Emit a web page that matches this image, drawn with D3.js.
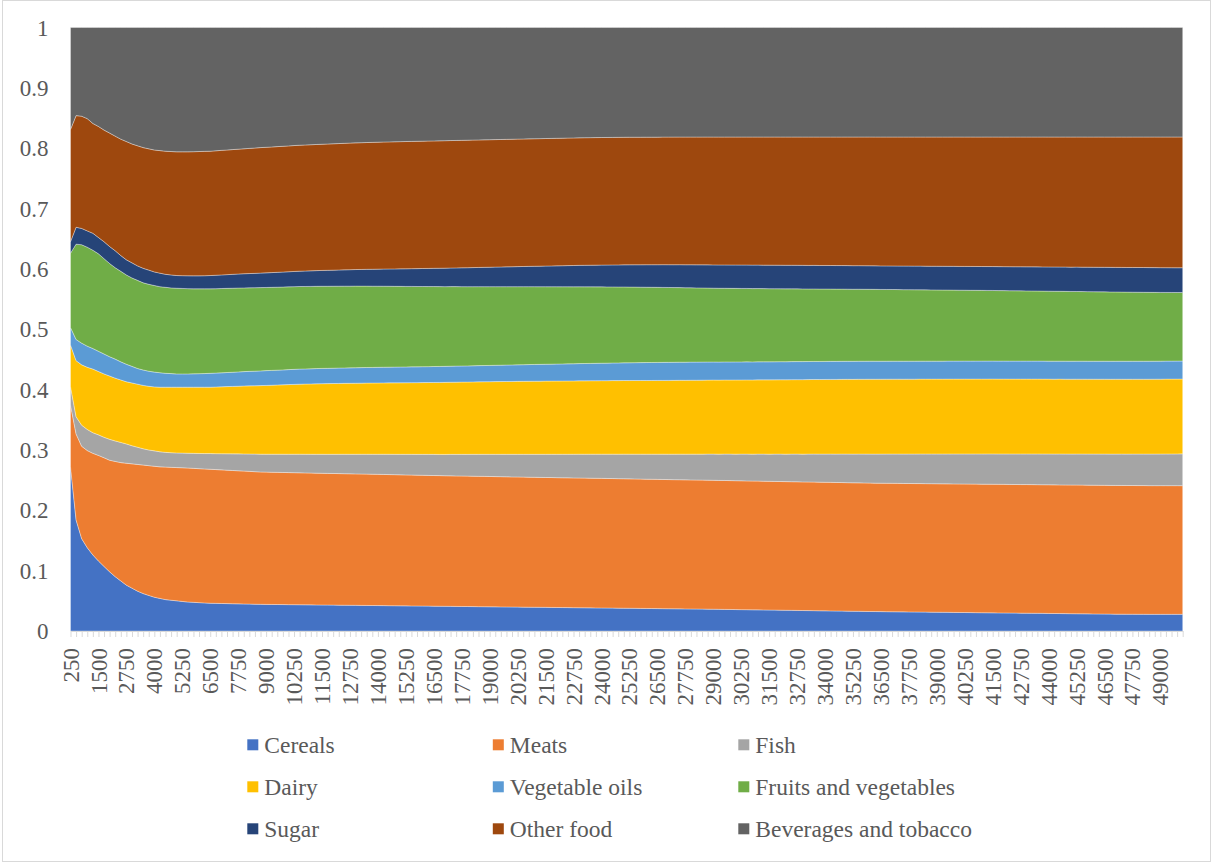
<!DOCTYPE html>
<html>
<head>
<meta charset="utf-8">
<script src="https://cdn.jsdelivr.net/npm/d3@7"></script>
<style>
  html, body { margin: 0; padding: 0; background: #fff; }
  svg { display: block; font-family: "Times New Roman", "Liberation Serif", serif; }
</style>
</head>
<body>
<svg id="chart" width="1212" height="864"></svg>
<script>
// ---------------- DATA ----------------
const categories = [
250,500,750,1000,1250,1500,1750,2000,2250,2500,2750,3000,3250,3500,3750,4000,4250,4500,4750,5000,
5250,5500,5750,6000,6250,6500,6750,7000,7250,7500,7750,8000,8250,8500,8750,9000,9250,9500,9750,10000,
10250,10500,10750,11000,11250,11500,11750,12000,12250,12500,12750,13000,13250,13500,13750,14000,14250,14500,14750,15000,
15250,15500,15750,16000,16250,16500,16750,17000,17250,17500,17750,18000,18250,18500,18750,19000,19250,19500,19750,20000,
20250,20500,20750,21000,21250,21500,21750,22000,22250,22500,22750,23000,23250,23500,23750,24000,24250,24500,24750,25000,
25250,25500,25750,26000,26250,26500,26750,27000,27250,27500,27750,28000,28250,28500,28750,29000,29250,29500,29750,30000,
30250,30500,30750,31000,31250,31500,31750,32000,32250,32500,32750,33000,33250,33500,33750,34000,34250,34500,34750,35000,
35250,35500,35750,36000,36250,36500,36750,37000,37250,37500,37750,38000,38250,38500,38750,39000,39250,39500,39750,40000,
40250,40500,40750,41000,41250,41500,41750,42000,42250,42500,42750,43000,43250,43500,43750,44000,44250,44500,44750,45000,
45250,45500,45750,46000,46250,46500,46750,47000,47250,47500,47750,48000,48250,48500,48750,49000,49250,49500,49750,50000
];

const seriesNames = ["Cereals","Meats","Fish","Dairy","Vegetable oils","Fruits and vegetables","Sugar","Other food","Beverages and tobacco"];

const cereals = [
.272,.184,.153,.138,.126,.116,.107,.098,.090,.083,
.076,.071,.066,.062,.059,.056,.054,.052,.051,.050,
.049,.048,.0475,.047,.0465,.046,.0458,.0456,.0454,.0452,
.045,.0448,.0446,.0444,.0442,
.0441,.044,.0439,.0438,.0437,.0436,.0435,.0434,.0433,.0432,
.0431,.043,.0429,.0428,.0427,.0426,.0425,.0424,.0423,.0422,
.0421,.042,.0419,.0418,.0417,.0416,.0415,.0414,.0413,.0412,
.0411,.041,.0409,.0408,.0407,.0406,.0405,.0404,.0403,.0402,
.0401,.040,.0399,.0398,.0397,.0396,.0395,.0394,.0393,.0392,
.0391,.039,.0389,.0388,.0387,.0386,.0385,.0384,.0383,.0382,
.0381,.038,.0379,.0378,.0377,.0376,.0375,.0374,.0373,.0372,
.0371,.037,.0369,.0368,.0367,.0366,.0365,.0364,.0363,.0362,
.0361,.0359,.0358,.0357,.0355,.0354,.0353,.0351,.035,.0349,
.0347,.0346,.0345,.0343,.0342,.0341,.0339,.0338,.0337,.0335,
.0334,.0333,.0331,.033,.0329,.0327,.0326,.0325,.0323,.0322,
.0321,.032,.0319,.0318,.0317,.0316,.0315,.0314,.0313,.0312,
.0311,.031,.0309,.0308,.0307,.0306,.0305,.0304,.0303,.0302,
.0301,.030,.0299,.0298,.0297,.0296,.0295,.0294,.0293,.0292,
.0291,.029,.0289,.0288,.0287,.0286,.0285,.0284,.0283,.0282,
.0281,.028,.0279,.0279,.0278,.0278,.0277,.0277,.0276,.0276,
.0276,.0276,.0276,.0276,.0276
];

const meats = [
.1025,.1424,.153,.161,.1684,.175,.180,.185,.191,.196,
.202,.206,.210,.213,.215,.217,.218,.2196,.2202,.2208,
.2215,.222,.222,.222,.222,.222,.2217,.2214,.2211,.2208,
.2205,.2202,.2199,.2196,.2193,
.2192,.2191,.219,.2189,.2188,.2187,.2186,.2185,.2184,.2183,
.2182,.2181,.218,.2179,.2178,.2177,.2176,.2175,.2174,.2173,
.2172,.2171,.217,.2169,.2168,.2167,.2166,.2165,.2164,.2163,
.2162,.2161,.216,.216,.2159,.2159,.2158,.2158,.2157,.2157,
.2156,.2155,.2155,.2154,.2153,.2153,.2152,.2151,.2151,.215,
.2149,.2149,.2148,.2147,.2147,.2146,.2146,.2145,.2145,.2144,
.2144,.2143,.2143,.2142,.2142,.2141,.2141,.214,.214,.214,
.2139,.2139,.2138,.2138,.2138,.2137,.2137,.2136,.2136,.2136,
.2135,.2135,.2135,.2134,.2134,.2134,.2133,.2133,.2133,.2132,
.2132,.2132,.2131,.2131,.2131,.2131,.213,.213,.213,.213,
.2129,.2129,.2129,.2129,.2128,.2128,.2128,.2128,.2128,.2127,
.2127,.2127,.2127,.2127,.2127,.2127,.2127,.2128,.2128,.2128,
.2128,.2128,.2128,.2129,.2129,.2129,.2129,.2129,.2129,.213,
.213,.213,.213,.213,.213,.213,.2131,.2131,.2131,.2131,
.2131,.2131,.2131,.2131,.2131,.2132,.2132,.2132,.2132,.2132,
.2132,.2132,.2132,.2132,.2132,.2132,.2132,.2132,.2132,.2132,
.2132,.2132,.2132,.2132,.2132
];

const fish = [
.0305,.0286,.035,.035,.0342,.034,.034,.0346,.034,.0335,
.032,.030,.0285,.027,.026,.0255,.025,.0244,.0243,.0242,
.0243,.0246,.0249,.0252,.0255,.026,.0264,.0268,.0272,.0276,
.028,.0284,.0288,.0292,.0295,
.0297,.0299,.0301,.0302,.0304,.0306,.0308,.0309,.0311,.0313,
.0315,.0316,.0318,.032,.0322,.0323,.0325,.0327,.0329,.033,
.0332,.0334,.0336,.0337,.0339,.0341,.0343,.0344,.0346,.0348,
.035,.0351,.0353,.0355,.0357,.0358,.036,.0362,.0364,.0365,
.0367,.0369,.037,.0372,.0374,.0375,.0377,.0379,.038,.0382,
.0384,.0385,.0387,.0389,.039,.0392,.0394,.0395,.0397,.0399,
.040,.0402,.0404,.0405,.0407,.0409,.041,.0412,.0414,.0415,
.0417,.0419,.042,.0422,.0424,.0425,.0427,.0429,.043,.0432,
.0434,.0435,.0437,.0439,.044,.0442,.0444,.0445,.0447,.0449,
.045,.0452,.0454,.0455,.0457,.0459,.046,.0462,.0464,.0465,
.0467,.0469,.047,.0472,.0474,.0475,.0477,.0478,.048,.0481,
.0482,.0484,.0485,.0486,.0487,.0488,.0489,.049,.0491,.0492,
.0493,.0494,.0495,.0496,.0497,.0498,.0499,.050,.0501,.0502,
.0503,.0503,.0504,.0505,.0506,.0507,.0507,.0508,.0509,.051,
.051,.0511,.0512,.0513,.0513,.0514,.0515,.0515,.0516,.0517,
.0518,.0518,.0519,.052,.052,.0521,.0522,.0522,.0523,.0524,
.0524,.0525,.0525,.0526,.0527
];

const dairy = [
.069,.093,.100,.103,.1054,.105,.105,.1049,.104,.1035,
.103,.104,.1045,.105,.1055,.106,.107,.108,.1085,.109,
.1092,.1094,.1096,.1098,.110,.110,.1104,.1108,.1113,.1117,
.1121,.1126,.1129,.1132,.1136,
.114,.1143,.1147,.115,.1154,.1157,.116,.1163,.1165,.1168,
.117,.1171,.1172,.1173,.1174,.1175,.1176,.1177,.1178,.1179,
.118,.1181,.1182,.1183,.1184,.1185,.1186,.1187,.1188,.1189,
.119,.1191,.1192,.1194,.1195,.1196,.1197,.1198,.120,.1201,
.1202,.1203,.1204,.1205,.1206,.1207,.1208,.1209,.121,.121,
.1211,.1211,.1212,.1212,.1213,.1213,.1214,.1214,.1215,.1215,
.1216,.1216,.1217,.1217,.1218,.1218,.1219,.1219,.122,.122,
.1221,.1221,.1222,.1222,.1223,.1223,.1224,.1224,.1225,.1225,
.1226,.1226,.1227,.1227,.1228,.1228,.1229,.1229,.123,.123,
.1231,.1231,.1232,.1232,.1233,.1233,.1234,.1234,.1235,.1235,
.1236,.1236,.1237,.1237,.1238,.1238,.1239,.1239,.124,.124,
.124,.124,.124,.124,.124,.124,.124,.124,.124,.124,
.124,.124,.124,.124,.124,.124,.124,.124,.124,.124,
.124,.124,.124,.124,.124,.124,.124,.124,.124,.124,
.124,.124,.124,.124,.124,.124,.124,.124,.124,.124,
.124,.124,.124,.124,.124,.124,.124,.124,.124,.124,
.124,.124,.124,.124,.124
];

const vegOils = [
.029,.035,.036,.035,.034,.0335,.033,.032,.0315,.030,
.029,.0275,.026,.0255,.025,.0245,.024,.023,.0225,.022,
.022,.022,.0222,.0224,.0226,.023,.0231,.0232,.0233,.0235,
.0237,.0238,.024,.0242,.0244,
.0245,.0246,.0246,.0247,.0248,.0249,.025,.025,.0251,.0252,
.0253,.0253,.0254,.0255,.0255,.0256,.0257,.0257,.0258,.0258,
.0259,.0259,.026,.026,.0261,.0261,.0262,.0262,.0263,.0263,
.0264,.0264,.0265,.0265,.0266,.0266,.0267,.0267,.0268,.0268,
.0269,.027,.0271,.0272,.0273,.0274,.0275,.0276,.0277,.0278,
.0279,.028,.0281,.0282,.0283,.0284,.0285,.0286,.0287,.0288,
.0289,.029,.0291,.0292,.0293,.0294,.0295,.0296,.0297,.0298,
.0298,.0299,.0299,.030,.030,.030,.030,.030,.030,.030,
.0299,.0299,.0299,.0299,.0299,.0299,.0299,.0299,.0299,.0299,
.0299,.0299,.0299,.0299,.0299,.0299,.0299,.0299,.0299,.0299,
.0299,.0299,.0299,.0299,.0299,.0299,.0299,.0299,.0299,.0299,
.0298,.0298,.0298,.0298,.0298,.0298,.0298,.0298,.0298,.0298,
.0298,.0298,.0298,.0298,.0298,.0298,.0298,.0298,.0298,.0298,
.0298,.0298,.0298,.0298,.0298,.0298,.0298,.0298,.0298,.0298,
.0298,.0298,.0298,.0298,.0298,.0298,.0298,.0298,.0298,.0298,
.0298,.0298,.0298,.0298,.0298,.0298,.0298,.0298,.0298,.0298,
.0298,.0298,.0298,.0298,.0298
];

const fruitsVeg = [
.123,.158,.163,.164,.163,.1615,.158,.1545,.1515,.150,
.148,.1465,.146,.1445,.144,.1435,.1425,.1425,.142,.142,
.1416,.1413,.1408,.1406,.1404,.140,.1398,.1397,.1395,.1392,
.139,.1387,.1385,.1383,.138,
.1378,.1377,.1375,.1373,.1372,.137,.1368,.1366,.1365,.1363,
.1361,.136,.1358,.1356,.1355,.1353,.1351,.1349,.1347,.1345,
.1343,.1341,.1339,.1337,.1335,.1333,.1331,.1329,.1327,.1325,
.1323,.1321,.1319,.1317,.1315,.1313,.1311,.1309,.1307,.1305,
.1303,.1301,.1299,.1297,.1295,.1293,.1291,.1289,.1287,.1285,
.1283,.1281,.1279,.1277,.1275,.1273,.1271,.1269,.1267,.1265,
.1263,.1261,.1259,.1257,.1255,.1253,.1251,.1249,.1247,.1245,
.1243,.1241,.1239,.1237,.1235,.1233,.1231,.1229,.1227,.1225,
.1223,.1222,.122,.1219,.1218,.1217,.1216,.1214,.1213,.1212,
.1211,.121,.1208,.1207,.1206,.1205,.1204,.1202,.1201,.120,
.1199,.1198,.1197,.1196,.1195,.1194,.1193,.1192,.1191,.119,
.1189,.1188,.1187,.1186,.1185,.1184,.1183,.1182,.1181,.118,
.1179,.1178,.1177,.1176,.1175,.1174,.1173,.1172,.1171,.117,
.1169,.1168,.1167,.1166,.1165,.1164,.1163,.1162,.1161,.116,
.1159,.1158,.1157,.1156,.1155,.1154,.1153,.1152,.1151,.115,
.1149,.1148,.1147,.1146,.1145,.1144,.1143,.1142,.1141,.114,
.1139,.1138,.1137,.1136,.1136
];

const sugar = [
.019,.028,.027,.027,.028,.027,.028,.028,.028,.026,
.025,.025,.024,.024,.0235,.0225,.0225,.0215,.0215,.021,
.0212,.0213,.0215,.0215,.0217,.022,.0223,.0225,.0227,.023,
.0232,.0235,.0236,.0237,.024,
.0242,.0244,.0246,.0248,.025,.0252,.0254,.0256,.0258,.026,
.0262,.0264,.0266,.0268,.027,.0272,.0274,.0276,.0278,.028,
.0282,.0284,.0286,.0288,.029,.0292,.0294,.0296,.0298,.030,
.0302,.0304,.0306,.0308,.031,.0312,.0314,.0316,.0318,.032,
.0322,.0324,.0326,.0328,.033,.0332,.0334,.0336,.0338,.034,
.0342,.0344,.0346,.0348,.035,.0352,.0354,.0356,.0357,.0359,
.036,.0362,.0363,.0365,.0366,.0368,.0369,.037,.0372,.0373,
.0374,.0376,.0377,.0378,.0379,.038,.0381,.0382,.0383,.0384,
.0385,.0386,.0386,.0387,.0387,.0388,.0388,.0389,.0389,.0389,
.039,.039,.039,.039,.039,.039,.039,.039,.039,.039,
.039,.039,.039,.039,.039,.039,.039,.039,.039,.039,
.039,.039,.039,.039,.0391,.0391,.0391,.0392,.0392,.0392,
.0393,.0393,.0393,.0394,.0394,.0394,.0395,.0395,.0395,.0396,
.0396,.0397,.0397,.0398,.0398,.0399,.0399,.040,.040,.0401,
.0401,.0402,.0402,.0403,.0403,.0404,.0404,.0405,.0405,.0406,
.0406,.0407,.0407,.0408,.0408,.0409,.0409,.041,.041,.041,
.041,.041,.041,.041,.041
];

const otherFood = [
.186,.185,.186,.186,.182,.184,.185,.188,.190,.193,
.196,.197,.199,.200,.201,.202,.203,.204,.2045,.205,
.2052,.2054,.2057,.206,.2061,.206,.2062,.2064,.2065,.2067,
.2069,.207,.2074,.2077,.208,
.2081,.2082,.2083,.2084,.2085,.2086,.2087,.2088,.2089,.209,
.2091,.2092,.2093,.2094,.2095,.2096,.2097,.2098,.2099,.210,
.2101,.2102,.2103,.2104,.2105,.2106,.2106,.2107,.2107,.2108,
.2108,.2108,.2109,.2109,.2109,.2109,.211,.211,.211,.211,
.211,.211,.211,.211,.211,.211,.211,.211,.211,.211,
.211,.211,.211,.211,.211,.211,.211,.211,.211,.211,
.211,.211,.211,.211,.211,.2111,.2111,.2111,.2112,.2112,
.2112,.2113,.2113,.2114,.2114,.2115,.2115,.2116,.2116,.2117,
.2117,.2118,.2118,.2119,.2119,.212,.212,.2121,.2121,.2122,
.2122,.2123,.2123,.2124,.2124,.2125,.2125,.2126,.2126,.2127,
.2127,.2128,.2129,.2129,.213,.2131,.2131,.2132,.2133,.2133,
.2134,.2135,.2135,.2136,.2137,.2137,.2138,.2138,.2139,.214,
.214,.2141,.2141,.2142,.2143,.2143,.2144,.2144,.2145,.2146,
.2146,.2147,.2147,.2148,.2149,.2149,.215,.215,.2151,.2152,
.2152,.2153,.2153,.2154,.2155,.2155,.2156,.2156,.2157,.2158,
.2158,.2159,.2159,.216,.2161,.2161,.2162,.2162,.2163,.2164,
.2164,.2165,.2165,.2166,.2166
];

const beverages = [
.169,.146,.147,.151,.159,.164,.170,.175,.180,.185,
.189,.193,.196,.199,.201,.203,.204,.205,.2055,.206,
.206,.206,.2058,.2055,.2052,.205,.2043,.2036,.203,.2023,
.2016,.201,.2003,.1997,.199,
.1985,.198,.1974,.1968,.1962,.1956,.195,.1946,.1942,.1938,
.1934,.193,.1926,.1922,.1918,.1914,.191,.1907,.1904,.1901,
.1898,.1895,.1893,.1891,.1889,.1887,.1885,.1883,.1881,.1879,
.1877,.1875,.1873,.1871,.1869,.1867,.1865,.1863,.1861,.1859,
.1857,.1855,.1853,.1851,.1849,.1847,.1845,.1843,.1841,.1839,
.1837,.1835,.1833,.1831,.1829,.1827,.1825,.1823,.1822,.1821,
.182,.1819,.1818,.1817,.1816,.1815,.1815,.1815,.1815,.1815,
.1815,.1814,.1814,.1814,.1814,.1814,.1814,.1814,.1814,.1814,
.1814,.1814,.1814,.1814,.1814,.1814,.1814,.1814,.1814,.1814,
.1814,.1814,.1814,.1814,.1814,.1814,.1814,.1814,.1814,.1814,
.1814,.1814,.1814,.1814,.1814,.1814,.1814,.1814,.1814,.1814,
.1814,.1814,.1814,.1814,.1814,.1814,.1814,.1814,.1814,.1814,
.1814,.1814,.1814,.1814,.1814,.1814,.1814,.1814,.1814,.1814,
.1814,.1814,.1814,.1814,.1814,.1814,.1814,.1814,.1814,.1814,
.1814,.1814,.1814,.1814,.1814,.1814,.1814,.1814,.1814,.1814,
.1814,.1814,.1814,.1814,.1814,.1814,.1814,.1814,.1814,.1814,
.1814,.1814,.1814,.1814,.1814
];

const yTicks = [0, 0.1, 0.2, 0.3, 0.4, 0.5, 0.6, 0.7, 0.8, 0.9, 1];
const colors = ["#4472C4","#ED7D31","#A5A5A5","#FFC000","#5B9BD5","#70AD47","#264478","#9E480E","#636363"];

// ---------------- BUILD ----------------
const seriesArrays = [cereals, meats, fish, dairy, vegOils, fruitsVeg, sugar, otherFood, beverages];
seriesArrays.forEach((a, k) => { if (a.length !== categories.length) throw new Error(seriesNames[k] + " length " + a.length); });

const table = categories.map((c, i) => {
  const row = { cat: c };
  seriesNames.forEach((n, k) => row[n] = seriesArrays[k][i]);
  return row;
});

const svg = d3.select("#chart");
const textColor = "#595959";
const fontSize = 23;

// chart border
svg.append("rect").attr("x", 2.5).attr("y", 0.5).attr("width", 1208).attr("height", 861)
  .attr("fill", "#fff").attr("stroke", "#d9d9d9").attr("stroke-width", 1);

const plotL = 70.5, plotR = 1182.7, plotT = 27.5, plotB = 631;
const x = d3.scalePoint().domain(categories).range([plotL, plotR]);
const y = d3.scaleLinear().domain([0, 1]).range([plotB, plotT]);

const stack = d3.stack().keys(seriesNames).offset(d3.stackOffsetExpand);
const layers = stack(table);

const area = d3.area()
  .x(d => x(d.data.cat))
  .y0(d => y(d[0]))
  .y1(d => y(d[1]));

svg.append("g").selectAll("path").data(layers).join("path")
  .attr("d", area)
  .attr("fill", (d, i) => colors[i])
  .attr("stroke", "#ffffff")
  .attr("stroke-opacity", 0.45)
  .attr("stroke-width", 0.75);

// Y axis
const yAxis = svg.append("g").attr("transform", `translate(${plotL},0)`)
  .call(d3.axisLeft(y).tickValues(yTicks).tickSize(0).tickPadding(22)
    .tickFormat(d => String(+d.toFixed(1))));
yAxis.select(".domain").remove();
yAxis.selectAll("text").attr("fill", textColor).attr("font-size", fontSize)
  .attr("font-family", '"Times New Roman", "Liberation Serif", serif').attr("dy", "0.33em");

// X axis
const labelSet = new Set(categories.filter((c, i) => i % 5 === 0));
const xAxis = svg.append("g").attr("transform", `translate(0,${plotB})`)
  .call(d3.axisBottom(x).tickValues(categories).tickSize(6).tickSizeOuter(0)
    .tickFormat(d => labelSet.has(d) ? String(d) : ""));
xAxis.select(".domain").attr("stroke", "#d9d9d9");
xAxis.selectAll(".tick line").attr("stroke", "#d9d9d9");
xAxis.selectAll("text")
  .attr("fill", textColor).attr("font-size", fontSize)
  .attr("font-family", '"Times New Roman", "Liberation Serif", serif')
  .attr("transform", "rotate(-90)")
  .attr("x", -17).attr("y", 0).attr("dy", "0.33em")
  .style("text-anchor", "end");

// Legend
const legend = svg.append("g");
const colX = [247.3, 492.8, 738.3];
const rowY = [739.3, 781.3, 823.3];
seriesNames.forEach((n, i) => {
  const g = legend.append("g").attr("transform", `translate(${colX[i % 3]},${rowY[Math.floor(i / 3)]})`);
  g.append("rect").attr("width", 11).attr("height", 11).attr("fill", colors[i]);
  g.append("text").attr("x", 17).attr("y", 13.4).attr("fill", textColor)
    .attr("font-size", 23.5).text(n);
});
</script>
</body>
</html>
